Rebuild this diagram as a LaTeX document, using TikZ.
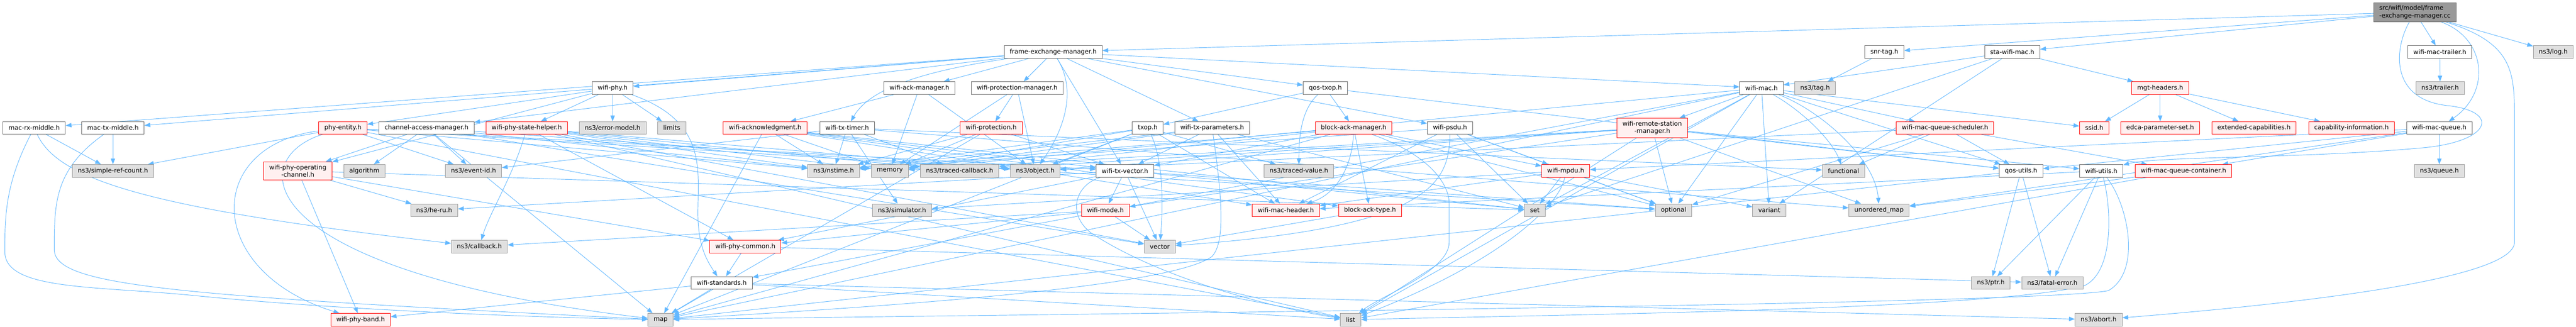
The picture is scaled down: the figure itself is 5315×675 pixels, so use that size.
\documentclass[tikz,border=0pt]{standalone}
\usepackage{fontspec}
\usepackage{tikz}
\usetikzlibrary{arrows.meta,backgrounds}
\newfontfamily\dotfont{DejaVu Sans}
\definecolor{edgeblue}{HTML}{63B8FF}
\definecolor{greyforty}{HTML}{666666}
\definecolor{greysixty}{HTML}{999999}
\definecolor{greyninety}{HTML}{E0E0E0}
\definecolor{pinkbg}{HTML}{FFF0F0}

\begin{document}
\begin{tikzpicture}[x=1pt, y=-1pt,
    hfile/.style={draw=greyforty, fill=white, line width=1pt, font={\dotfont\fontsize{12.9}{15.5}\selectfont}, minimum height=26pt, inner xsep=11.5pt, inner ysep=6pt},
    hred/.style={hfile, draw=red, fill=pinkbg},
    hsys/.style={hfile, draw=greysixty, fill=greyninety},
    hroot/.style={hfile, fill=greysixty, align=left},
    incl/.style={draw=edgeblue, line width=1pt, -{Triangle[length=12pt,width=9pt]}}]
            \useasboundingbox (0,0) rectangle (5315,675);
            \node [hroot] (cc) at (4982.5,25.3) {src/wifi/model/frame\\-exchange-manager.cc};
            \node [hfile] (femh) at (2173,107.3) {frame-exchange-manager.h};
            \node [hfile] (snrtag) at (3888,107.3) {snr-tag.h};
            \node [hfile] (stamac) at (4151.7,107.3) {sta-wifi-mac.h};
            \node [hfile] (mactrailer) at (5034,107.3) {wifi-mac-trailer.h};
            \node [hsys] (log) at (5268,107.3) {ns3/log.h};
            \node [hfile] (wifiphy) at (1264,181.7) {wifi-phy.h};
            \node [hfile] (ackmgr) at (1897,181.7) {wifi-ack-manager.h};
            \node [hfile] (protmgr) at (2098.5,181.7) {wifi-protection-manager.h};
            \node [hfile] (qostxop) at (2734.5,181.7) {qos-txop.h};
            \node [hfile] (wifimac) at (3634.5,181.7) {wifi-mac.h};
            \node [hsys] (tag) at (3745,181.7) {ns3/tag.h};
            \node [hred] (mgt) at (4457,181.7) {mgt-headers.h};
            \node [hsys] (trailer) at (5034.5,181.7) {ns3/trailer.h};
            \node [hfile] (rxmiddle) at (70.5,264) {mac-rx-middle.h};
            \node [hfile] (txmiddle) at (233,264) {mac-tx-middle.h};
            \node [hred] (phyentity) at (707.5,264) {phy-entity.h};
            \node [hfile] (cam) at (880,264) {channel-access-manager.h};
            \node [hred] (statehelper) at (1086.7,264) {wifi-phy-state-helper.h};
            \node [hsys] (errmodel) at (1264,264) {ns3/error-model.h};
            \node [hsys] (limits) at (1386,264) {limits};
            \node [hred] (ack) at (1578.7,264) {wifi-acknowledgment.h};
            \node [hfile] (txtimer) at (1748,264) {wifi-tx-timer.h};
            \node [hred] (prot) at (2045,264) {wifi-protection.h};
            \node [hfile] (txop) at (2368,264) {txop.h};
            \node [hfile] (txparams) at (2501,264) {wifi-tx-parameters.h};
            \node [hred] (bam) at (2793,264) {block-ack-manager.h};
            \node [hfile] (psdu) at (2991.7,264) {wifi-psdu.h};
            \node [hred, align=center] (rsm) at (3409,264) {wifi-remote-station\\-manager.h};
            \node [hred] (sched) at (4013,264) {wifi-mac-queue-scheduler.h};
            \node [hred] (ssid) at (4321,264) {ssid.h};
            \node [hred] (edca) at (4457,264) {edca-parameter-set.h};
            \node [hred] (extcap) at (4650.5,264) {extended-capabilities.h};
            \node [hred] (capinfo) at (4851.7,264) {capability-information.h};
            \node [hfile] (macqueue) at (5033,264) {wifi-mac-queue.h};
            \node [hsys] (srefcount) at (233,352.7) {ns3/simple-ref-count.h};
            \node [hred, align=center] (opchan) at (614.5,352.7) {wifi-phy-operating\\-channel.h};
            \node [hsys] (algorithm) at (751.7,352.7) {algorithm};
            \node [hsys] (eventid) at (977,352.7) {ns3/event-id.h};
            \node [hsys] (nstime) at (1720,352.7) {ns3/nstime.h};
            \node [hsys] (memory) at (1836,352.7) {memory};
            \node [hsys] (tracedcb) at (1980,352.7) {ns3/traced-callback.h};
            \node [hsys] (object) at (2136,352.7) {ns3/object.h};
            \node [hfile] (txvector) at (2321,352.7) {wifi-tx-vector.h};
            \node [hsys] (tracedval) at (2680,352.7) {ns3/traced-value.h};
            \node [hred] (mpdu) at (3230.5,352.7) {wifi-mpdu.h};
            \node [hsys] (functional) at (3803.7,352.7) {functional};
            \node [hfile] (qosutils) at (4170,352.7) {qos-utils.h};
            \node [hfile] (wifiutils) at (4335.5,352.7) {wifi-utils.h};
            \node [hred] (container) at (4505,352.7) {wifi-mac-queue-container.h};
            \node [hsys] (queue) at (5033,352.7) {ns3/queue.h};
            \node [hsys] (heru) at (895.8,434) {ns3/he-ru.h};
            \node [hsys] (simulator) at (1861,434) {ns3/simulator.h};
            \node [hred] (mode) at (2280.7,434) {wifi-mode.h};
            \node [hred] (header) at (2653,434) {wifi-mac-header.h};
            \node [hred] (batype) at (2826.7,434) {block-ack-type.h};
            \node [hsys] (set) at (3166.7,434) {set};
            \node [hsys] (optional) at (3453,434) {optional};
            \node [hsys] (variant) at (3650.5,434) {variant};
            \node [hsys] (umap) at (3877,434) {unordered\_map};
            \node [hsys] (callback) at (989,509) {ns3/callback.h};
            \node [hred] (phycommon) at (1538,509) {wifi-phy-common.h};
            \node [hsys] (vector) at (2393,509) {vector};
            \node [hfile] (standards) at (1489,584) {wifi-standards.h};
            \node [hsys] (ptr) at (4107.5,584) {ns3/ptr.h};
            \node [hsys] (fatal) at (4234.5,584) {ns3/fatal-error.h};
            \node [hsys] (map) at (1363,660) {map};
            \node [hsys] (list) at (2786.7,660) {list};
            \node [hsys] (abort) at (4330,660) {ns3/abort.h};
            \node [hred] (band) at (744,660) {wifi-phy-band.h};
            \begin{scope}[on background layer]
            \draw [incl] (cc) -- (femh);
            \draw [incl] (cc) -- (snrtag);
            \draw [incl] (cc) -- (stamac);
            \draw [incl] (cc) .. controls (5130,80) and (5140,190) .. (macqueue);
            \draw [incl] (cc) -- (mactrailer);
            \draw [incl] (cc) .. controls (4940,100) and (4930,205) .. (5050,218) .. controls (5160,230) and (5140,292) .. (5000,305) .. controls (4750,328) and (4450,322) .. (wifiutils);
            \draw [incl] (cc) .. controls (5188,90) and (5188,150) .. (5188,250) -- (5188,500) .. controls (5188,580) and (4700,630) .. (abort);
            \draw [incl] (cc) -- (log);
            \draw [incl] (femh) -- (rxmiddle);
            \draw [incl] (femh) -- (txmiddle);
            \draw [incl] (femh) -- (cam);
            \draw [incl] (femh) -- (wifiphy);
            \draw [incl] (femh) .. controls (1880,150) and (1790,190) .. (txtimer);
            \draw [incl] (femh) -- (ackmgr);
            \draw [incl] (femh) -- (protmgr);
            \draw [incl] (femh) .. controls (2230,200) and (2180,290) .. (object);
            \draw [incl] (femh) -- (txvector);
            \draw [incl] (femh) -- (txparams);
            \draw [incl] (femh) -- (qostxop);
            \draw [incl] (femh) -- (psdu);
            \draw [incl] (femh) -- (wifimac);
            \draw [incl] (snrtag) -- (tag);
            \draw [incl] (stamac) -- (mgt);
            \draw [incl] (stamac) -- (wifimac);
            \draw [incl] (stamac) -- (set);
            \draw [incl] (stamac) -- (variant);
            \draw [incl] (mactrailer) -- (trailer);
            \draw [incl] (wifiphy) -- (phyentity);
            \draw [incl] (wifiphy) -- (opchan);
            \draw [incl] (wifiphy) -- (statehelper);
            \draw [incl] (wifiphy) -- (errmodel);
            \draw [incl] (wifiphy) -- (limits);
            \draw [incl] (wifiphy) .. controls (1460,250) and (1440,350) .. (1440,440) .. controls (1440,510) and (1460,540) .. (standards);
            \draw [incl] (ackmgr) -- (ack);
            \draw [incl] (ackmgr) -- (object);
            \draw [incl] (ackmgr) -- (memory);
            \draw [incl] (protmgr) -- (prot);
            \draw [incl] (protmgr) -- (object);
            \draw [incl] (protmgr) -- (memory);
            \draw [incl] (qostxop) -- (txop);
            \draw [incl] (qostxop) -- (qosutils);
            \draw [incl] (qostxop) .. controls (2680,230) and (2680,300) .. (tracedval);
            \draw [incl] (qostxop) -- (bam);
            \draw [incl] (wifimac) -- (rsm);
            \draw [incl] (wifimac) -- (qosutils);
            \draw [incl] (wifimac) -- (ssid);
            \draw [incl] (wifimac) -- (sched);
            \draw [incl] (wifimac) -- (standards);
            \draw [incl] (wifimac) .. controls (3720,230) and (3780,290) .. (functional);
            \draw [incl] (wifimac) .. controls (3760,230) and (3870,330) .. (umap);
            \draw [incl] (wifimac) -- (variant);
            \draw [incl] (wifimac) -- (optional);
            \draw [incl] (wifimac) -- (set);
            \draw [incl] (wifimac) -- (list);
            \draw [incl] (wifimac) -- (map);
            \draw [incl] (wifimac) -- (memory);
            \draw [incl] (mgt) -- (ssid);
            \draw [incl] (mgt) -- (edca);
            \draw [incl] (mgt) -- (extcap);
            \draw [incl] (mgt) -- (capinfo);
            \draw [incl] (rxmiddle) -- (srefcount);
            \draw [incl] (rxmiddle) .. controls (120,370) and (300,430) .. (callback);
            \draw [incl] (rxmiddle) .. controls (10,380) and (10,450) .. (10,520) .. controls (10,600) and (200,590) .. (400,610) .. controls (700,640) and (1100,655) .. (map);
            \draw [incl] (txmiddle) -- (srefcount);
            \draw [incl] (txmiddle) .. controls (112,350) and (112,420) .. (112,515) .. controls (112,590) and (350,610) .. (map);
            \draw [incl] (phyentity) -- (srefcount);
            \draw [incl] (phyentity) .. controls (420,300) and (420,560) .. (band);
            \draw [incl] (phyentity) -- (eventid);
            \draw [incl] (phyentity) -- (nstime);
            \draw [incl] (phyentity) -- (txvector);
            \draw [incl] (phyentity) .. controls (500,330) and (520,560) .. (map);
            \draw [incl] (phyentity) -- (list);
            \draw [incl] (phyentity) -- (optional);
            \draw [incl] (cam) -- (opchan);
            \draw [incl] (cam) -- (algorithm);
            \draw [incl] (cam) -- (eventid);
            \draw [incl] (cam) -- (nstime);
            \draw [incl] (cam) -- (object);
            \draw [incl] (cam) -- (map);
            \draw [incl] (cam) -- (vector);
            \draw [incl] (statehelper) .. controls (1060,360) and (1010,440) .. (callback);
            \draw [incl] (statehelper) -- (phycommon);
            \draw [incl] (statehelper) -- (nstime);
            \draw [incl] (statehelper) -- (object);
            \draw [incl] (statehelper) -- (tracedcb);
            \draw [incl] (statehelper) -- (list);
            \draw [incl] (statehelper) -- (memory);
            \draw [incl] (statehelper) -- (vector);
            \draw [incl] (ack) -- (batype);
            \draw [incl] (ack) -- (header);
            \draw [incl] (ack) -- (txvector);
            \draw [incl] (ack) -- (nstime);
            \draw [incl] (ack) -- (map);
            \draw [incl] (ack) -- (memory);
            \draw [incl] (ack) -- (set);
            \draw [incl] (txtimer) -- (eventid);
            \draw [incl] (txtimer) -- (nstime);
            \draw [incl] (txtimer) -- (simulator);
            \draw [incl] (txtimer) -- (tracedcb);
            \draw [incl] (txtimer) -- (functional);
            \draw [incl] (txtimer) -- (umap);
            \draw [incl] (prot) -- (txvector);
            \draw [incl] (prot) -- (nstime);
            \draw [incl] (prot) -- (map);
            \draw [incl] (prot) -- (memory);
            \draw [incl] (txop) -- (header);
            \draw [incl] (txop) -- (nstime);
            \draw [incl] (txop) -- (object);
            \draw [incl] (txop) -- (tracedval);
            \draw [incl] (txop) -- (map);
            \draw [incl] (txop) -- (memory);
            \draw [incl] (txop) .. controls (2400,330) and (2400,420) .. (vector);
            \draw [incl] (txparams) -- (txvector);
            \draw [incl] (txparams) -- (header);
            \draw [incl] (txparams) -- (nstime);
            \draw [incl] (txparams) .. controls (2520,400) and (2530,500) .. (2500,530) .. controls (2400,600) and (1700,640) .. (map);
            \draw [incl] (txparams) -- (memory);
            \draw [incl] (txparams) -- (set);
            \draw [incl] (bam) -- (batype);
            \draw [incl] (bam) .. controls (2790,340) and (2760,400) .. (header);
            \draw [incl] (bam) -- (mpdu);
            \draw [incl] (bam) -- (txvector);
            \draw [incl] (bam) -- (nstime);
            \draw [incl] (bam) -- (tracedcb);
            \draw [incl] (bam) -- (map);
            \draw [incl] (bam) .. controls (2950,320) and (2990,380) .. (2990,420) -- (2990,500) .. controls (2990,560) and (2850,610) .. (list);
            \draw [incl] (bam) -- (optional);
            \draw [incl] (psdu) -- (header);
            \draw [incl] (psdu) -- (mpdu);
            \draw [incl] (psdu) -- (nstime);
            \draw [incl] (psdu) -- (set);
            \draw [incl] (psdu) .. controls (2990,380) and (2950,470) .. (vector);
            \draw [incl] (psdu) -- (optional);
            \draw [incl] (rsm) -- (qosutils);
            \draw [incl] (rsm) -- (mode);
            \draw [incl] (rsm) -- (wifiutils);
            \draw [incl] (rsm) -- (object);
            \draw [incl] (rsm) -- (tracedcb);
            \draw [incl] (rsm) -- (optional);
            \draw [incl] (rsm) -- (umap);
            \draw [incl] (rsm) -- (list);
            \draw [incl] (rsm) -- (memory);
            \draw [incl] (sched) -- (qosutils);
            \draw [incl] (sched) -- (container);
            \draw [incl] (sched) -- (object);
            \draw [incl] (sched) -- (optional);
            \draw [incl] (sched) -- (functional);
            \draw [incl] (macqueue) -- (queue);
            \draw [incl] (macqueue) -- (container);
            \draw [incl] (macqueue) -- (qosutils);
            \draw [incl] (macqueue) -- (mpdu);
            \draw [incl] (macqueue) -- (umap);
            \draw [incl] (opchan) -- (band);
            \draw [incl] (opchan) -- (phycommon);
            \draw [incl] (opchan) -- (heru);
            \draw [incl] (opchan) -- (set);
            \draw [incl] (txvector) -- (heru);
            \draw [incl] (txvector) -- (phycommon);
            \draw [incl] (txvector) -- (mode);
            \draw [incl] (txvector) -- (vector);
            \draw [incl] (txvector) .. controls (2220,380) and (2200,440) .. (2250,480) .. controls (2400,580) and (2650,640) .. (list);
            \draw [incl] (txvector) -- (set);
            \draw [incl] (txvector) -- (optional);
            \draw [incl] (mpdu) -- (header);
            \draw [incl] (mpdu) -- (set);
            \draw [incl] (mpdu) .. controls (3220,420) and (3100,540) .. (list);
            \draw [incl] (mpdu) -- (optional);
            \draw [incl] (mpdu) -- (variant);
            \draw [incl] (mpdu) -- (simulator);
            \draw [incl] (qosutils) -- (ptr);
            \draw [incl] (qosutils) -- (fatal);
            \draw [incl] (qosutils) -- (map);
            \draw [incl] (wifiutils) -- (header);
            \draw [incl] (wifiutils) -- (ptr);
            \draw [incl] (wifiutils) -- (fatal);
            \draw [incl] (wifiutils) .. controls (4355,420) and (4365,560) .. (4300,590) .. controls (4100,640) and (3200,650) .. (list);
            \draw [incl] (wifiutils) .. controls (4390,420) and (4420,560) .. (4350,600) .. controls (4200,630) and (2000,650) .. (map);
            \draw [incl] (container) -- (list);
            \draw [incl] (container) -- (umap);
            \draw [incl] (mode) -- (phycommon);
            \draw [incl] (mode) -- (callback);
            \draw [incl] (mode) -- (vector);
            \draw [incl] (batype) -- (vector);
            \draw [incl] (phycommon) -- (standards);
            \draw [incl] (phycommon) -- (fatal);
            \draw [incl] (standards) -- (band);
            \draw [incl] (standards) -- (map);
            \draw [incl] (standards) -- (list);
            \draw [incl] (standards) -- (abort);
            \end{scope}
\end{tikzpicture}
\end{document}
